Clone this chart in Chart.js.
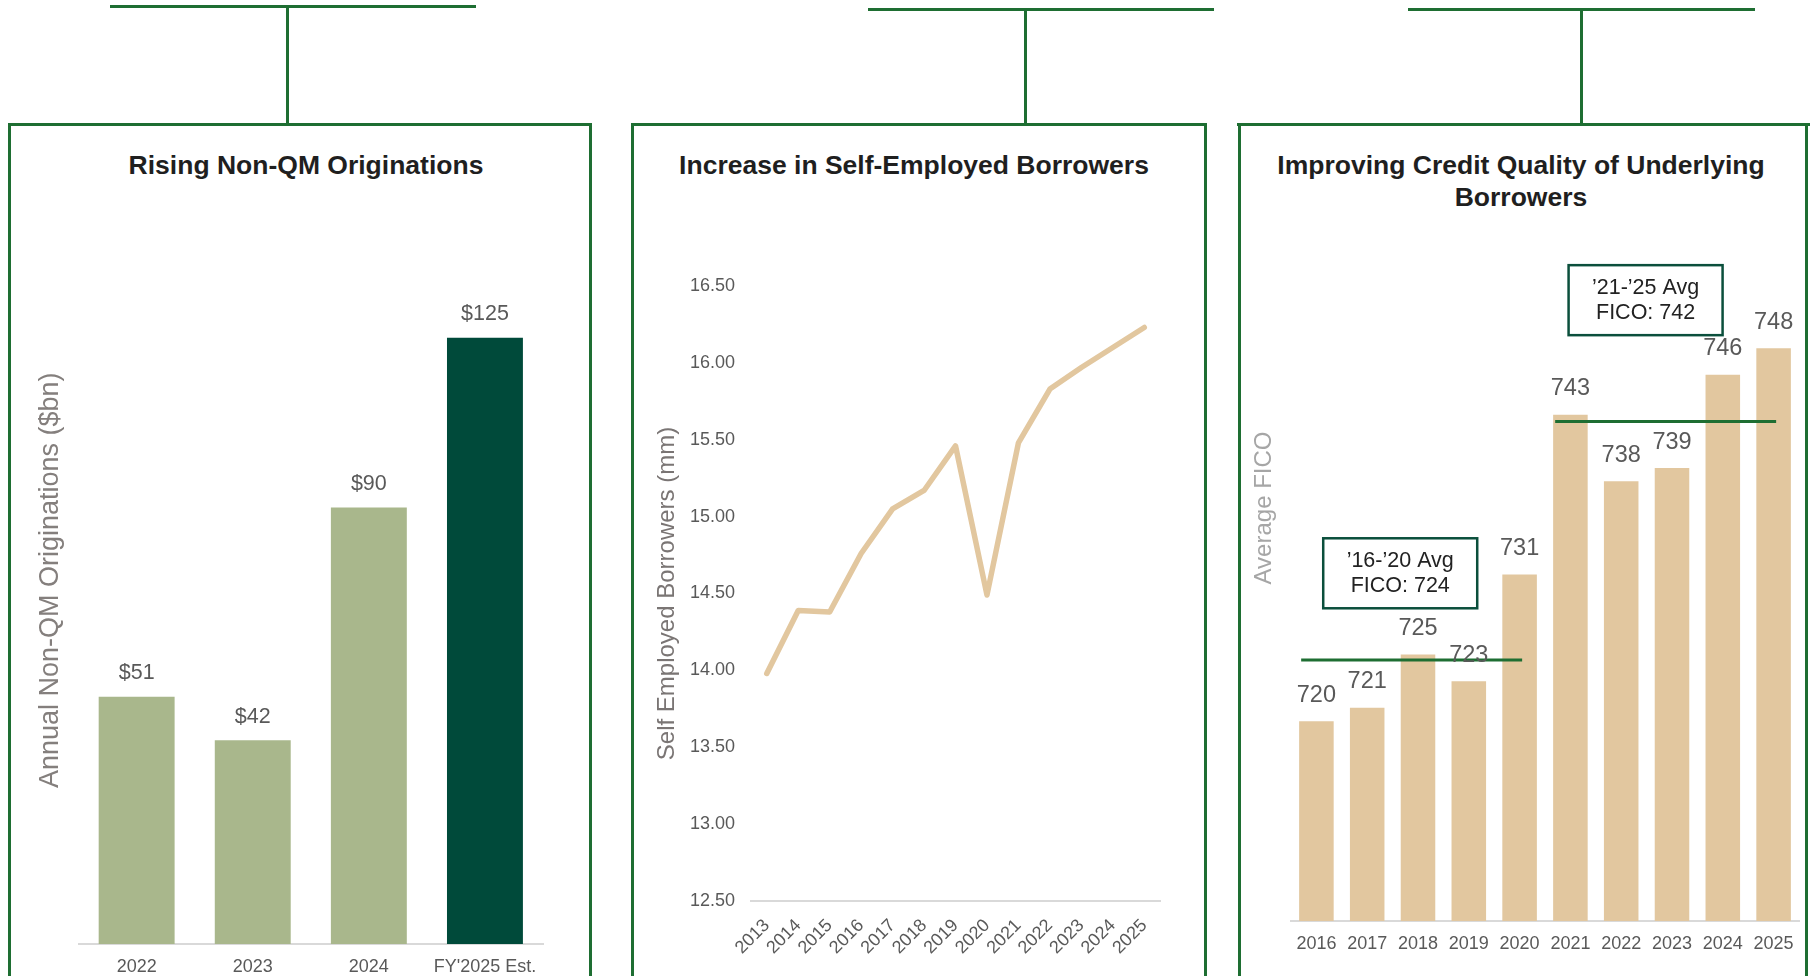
<!DOCTYPE html>
<html>
<head>
<meta charset="utf-8">
<script src="https://cdn.jsdelivr.net/npm/chart.js@4.4.1/dist/chart.umd.min.js"></script>
<style>
  html, body { margin: 0; padding: 0; background: #fff; }
  body { width: 1810px; height: 976px; position: relative; overflow: hidden; font-family: "Liberation Sans", Arial, sans-serif; }
  .ln { position: absolute; background: #1e6e32; }
  .title { position: absolute; top: 149px; font-weight: bold; font-size: 26.5px; line-height: 32px; color: #1f1f1f; text-align: center; white-space: nowrap; transform: translateX(-50%); }
  canvas { position: absolute; }
</style>
</head>
<body>
<!-- panel frames -->
<div class="ln" style="left:110px;top:5px;width:366px;height:3px"></div>
<div class="ln" style="left:286px;top:5px;width:3px;height:120px"></div>
<div class="ln" style="left:8px;top:123px;width:584px;height:3px"></div>
<div class="ln" style="left:8px;top:123px;width:3px;height:853px"></div>
<div class="ln" style="left:589px;top:123px;width:3px;height:853px"></div>

<div class="ln" style="left:868px;top:8px;width:346px;height:3px"></div>
<div class="ln" style="left:1024px;top:8px;width:3px;height:117px"></div>
<div class="ln" style="left:631px;top:123px;width:576px;height:3px"></div>
<div class="ln" style="left:631px;top:123px;width:3px;height:853px"></div>
<div class="ln" style="left:1204px;top:123px;width:3px;height:853px"></div>

<div class="ln" style="left:1408px;top:8px;width:347px;height:3px"></div>
<div class="ln" style="left:1580px;top:8px;width:3px;height:117px"></div>
<div class="ln" style="left:1237px;top:123px;width:573px;height:3px"></div>
<div class="ln" style="left:1238px;top:123px;width:3px;height:853px"></div>
<div class="ln" style="left:1805px;top:123px;width:3px;height:853px"></div>

<div class="title" style="left:306px">Rising Non-QM Originations</div>
<div class="title" style="left:914px">Increase in Self-Employed Borrowers</div>
<div class="title" style="left:1521px">Improving Credit Quality of Underlying<br>Borrowers</div>

<canvas id="origin" width="540" height="792" style="left:20px;top:200px"></canvas>
<canvas id="selfemp" width="540" height="740" style="left:640px;top:240px"></canvas>
<canvas id="fico" width="570" height="890" style="left:1240px;top:80px"></canvas>

<script>
const originYears = ["2022", "2023", "2024", "FY'2025 Est."];
const originValues = [51, 42, 90, 125];

const selfEmpYears = ["2013", "2014", "2015", "2016", "2017", "2018", "2019", "2020", "2021", "2022", "2023", "2024", "2025"];
const selfEmpValues = [13.98, 14.39, 14.38, 14.76, 15.05, 15.17, 15.46, 14.49, 15.48, 15.83, 15.97, 16.10, 16.23];

const ficoYears = ["2016", "2017", "2018", "2019", "2020", "2021", "2022", "2023", "2024", "2025"];
const ficoValues = [720, 721, 725, 723, 731, 743, 738, 739, 746, 748];

// period averages: text, drawn level, first and last year index
const avgText = [["\u201916-\u201920 Avg", "FICO: 724"], ["\u201921-\u201925 Avg", "FICO: 742"]];
const avgLevels = [724.6, 742.5];
const avgRanges = [[0, 4], [5, 9]];

Chart.defaults.font.family = '"Liberation Sans", Arial, sans-serif';
Chart.defaults.color = "#595959";
Chart.defaults.animation = false;

const green = "#1e6e32";
const tan = "#E2C79F";

// value labels over the bars
const barLabels = {
  id: "barLabels",
  afterDatasetsDraw(chart, args, opts) {
    const meta = chart.getDatasetMeta(0);
    const values = chart.data.datasets[0].data;
    const ctx = chart.ctx;
    ctx.save();
    ctx.font = opts.size + 'px "Liberation Sans", Arial, sans-serif';
    ctx.fillStyle = "#595959";
    ctx.textAlign = "center";
    ctx.textBaseline = "middle";
    meta.data.forEach((bar, i) => {
      ctx.fillText(opts.prefix + values[i], bar.x, bar.y - opts.offset);
    });
    ctx.restore();
  },
};

new Chart(document.getElementById("origin"), {
  type: "bar",
  data: {
    labels: originYears,
    datasets: [
      {
        data: originValues,
        backgroundColor: ["#A9B78C", "#A9B78C", "#A9B78C", "#004A3A"],
        barPercentage: 0.654,
        categoryPercentage: 1,
      },
    ],
  },
  options: {
    responsive: false,
    layout: { padding: { left: 10.4, top: 16.5, right: 17, bottom: 2.4 } },
    plugins: {
      legend: { display: false },
      tooltip: { enabled: false },
      barLabels: { prefix: "$", size: 21.5, offset: 23.5 },
    },
    scales: {
      x: {
        grid: { display: false, drawTicks: false },
        border: { color: "#d9d9d9", width: 2 },
        ticks: { font: { size: 18 }, padding: 12 },
      },
      y: {
        min: 0,
        max: 150,
        grid: { display: false, drawTicks: false },
        border: { display: false },
        ticks: { display: false },
        title: {
          display: true,
          text: "Annual Non-QM Originations ($bn)",
          color: "#847f7d",
          font: { size: 27 },
          padding: { top: 4, bottom: 11.8 },
        },
      },
    },
  },
  plugins: [barLabels],
});

new Chart(document.getElementById("selfemp"), {
  type: "line",
  data: {
    labels: selfEmpYears,
    datasets: [
      {
        data: selfEmpValues,
        borderColor: tan,
        borderWidth: 5.5,
        borderCapStyle: "round",
        borderJoinStyle: "round",
        pointRadius: 0,
        tension: 0,
      },
    ],
  },
  options: {
    responsive: false,
    layout: { padding: { left: 8.6, top: 46, right: 20, bottom: 7.4 } },
    plugins: { legend: { display: false }, tooltip: { enabled: false } },
    scales: {
      x: {
        offset: true,
        grid: { display: false, drawTicks: false },
        border: { color: "#d9d9d9", width: 2 },
        ticks: { font: { size: 18 }, padding: 14, minRotation: 45, maxRotation: 45, autoSkip: false },
      },
      y: {
        min: 12.5,
        max: 16.5,
        grid: { display: false, drawTicks: false },
        border: { display: false },
        ticks: { stepSize: 0.5, font: { size: 18 }, padding: 16, callback: (v) => v.toFixed(2) },
        title: {
          display: true,
          text: "Self Employed Borrowers (mm)",
          color: "#7a7574",
          font: { size: 24 },
          padding: { top: 4, bottom: -7.4 },
        },
      },
    },
  },
});

const avgDatasets = avgLevels.map((lvl, k) => ({
  type: "line",
  xAxisID: "x2",
  data: [
    { x: avgRanges[k][0] - 0.3, y: lvl },
    { x: avgRanges[k][1] + 0.05, y: lvl },
  ],
  borderColor: green,
  borderWidth: 3,
  pointRadius: 0,
  order: -1,
}));

// text boxes naming the period averages, anchored on the data scales
const avgBoxes = {
  id: "avgBoxes",
  afterDatasetsDraw(chart) {
    const xs = chart.scales.x2;
    const ys = chart.scales.y;
    const anchors = [[1.65, 731.1], [6.48, 751.6]];
    const ctx = chart.ctx;
    ctx.save();
    anchors.forEach(([ax, ay], k) => {
      const cx = xs.getPixelForValue(ax);
      const cy = ys.getPixelForValue(ay);
      const w = 154, h = 70;
      ctx.fillStyle = "#fff";
      ctx.fillRect(cx - w / 2, cy - h / 2, w, h);
      ctx.strokeStyle = "#0b4f3c";
      ctx.lineWidth = 2.5;
      ctx.strokeRect(cx - w / 2, cy - h / 2, w, h);
      ctx.fillStyle = "#222";
      ctx.font = '21.5px "Liberation Sans", Arial, sans-serif';
      ctx.textAlign = "center";
      ctx.textBaseline = "middle";
      ctx.fillText(avgText[k][0], cx, cy - 12);
      ctx.fillText(avgText[k][1], cx, cy + 13);
    });
    ctx.restore();
  },
};

new Chart(document.getElementById("fico"), {
  type: "bar",
  data: {
    labels: ficoYears,
    datasets: [
      {
        data: ficoValues,
        backgroundColor: tan,
        barPercentage: 0.68,
        categoryPercentage: 1,
        grouped: false,
      },
      ...avgDatasets,
    ],
  },
  options: {
    responsive: false,
    layout: { padding: { left: 5.6, top: 15, right: 11, bottom: 3.4 } },
    plugins: {
      legend: { display: false },
      tooltip: { enabled: false },
      barLabels: { prefix: "", size: 23.5, offset: 26 },
    },
    scales: {
      x: {
        grid: { display: false, drawTicks: false },
        border: { color: "#d9d9d9", width: 2 },
        ticks: { font: { size: 18 }, padding: 12 },
      },
      x2: {
        type: "linear",
        min: -0.5,
        max: 9.5,
        offset: false,
        grid: { offset: false },
        display: false,
      },
      y: {
        min: 705,
        max: 767,
        grid: { display: false, drawTicks: false },
        border: { display: false },
        ticks: { display: false },
        title: {
          display: true,
          text: "Average FICO",
          color: "#a6a6a6",
          font: { size: 24 },
          padding: { top: 4, bottom: 12.6 },
        },
      },
    },
  },
  plugins: [barLabels, avgBoxes],
});
</script>
</body>
</html>
